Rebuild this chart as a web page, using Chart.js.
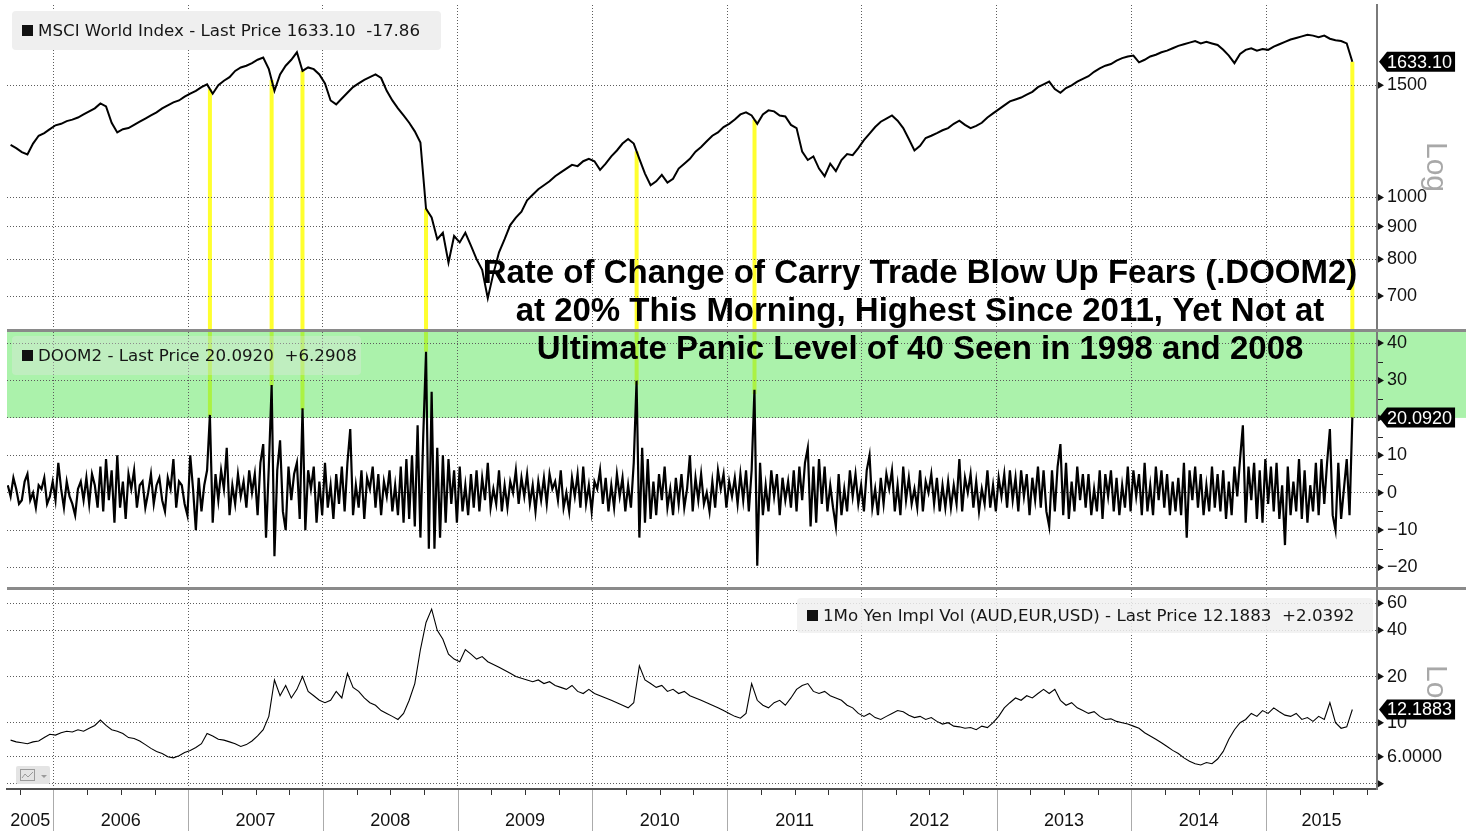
<!DOCTYPE html>
<html>
<head>
<meta charset="utf-8">
<script src="https://cdn.jsdelivr.net/npm/chart.js@4"></script>
<style>
  html, body { margin: 0; padding: 0; background: #fff; }
  #wrap { position: relative; width: 1466px; height: 831px; }
</style>
</head>
<body>
<div id="wrap"><canvas id="chart" width="1466" height="831"></canvas></div>
<script>
// ---- data ----
const lastDate = 2015.64;          // last print, Aug 2015
const halfMonth = 1 / 24;          // spacing of MSCI and yen vol points
const doomStep = 1 / 48;           // spacing of DOOM2 points

// MSCI World Index, twice a month, Sep 2005 -> Aug 2015 (one row = half a year)
const msciValues = [
  1209, 1195, 1178, 1168, 1215, 1250, 1262, 1280, 1298, 1305, 1318, 1325,
  1335, 1350, 1365, 1380, 1405, 1390, 1310, 1265, 1280, 1285, 1300, 1315,
  1330, 1345, 1360, 1380, 1395, 1410, 1420, 1440, 1455, 1470, 1490, 1505,
  1455, 1500, 1525, 1545, 1580, 1600, 1610, 1625, 1645, 1658, 1590, 1470,
  1560, 1610, 1645, 1690, 1580, 1600, 1590, 1560, 1510, 1420, 1400, 1430,
  1460, 1490, 1510, 1530, 1545, 1560, 1540, 1470, 1420, 1380, 1345, 1310,
  1270, 1220, 960, 930, 860, 880, 790, 870, 850, 880, 840, 800,
  770, 695, 760, 820, 860, 905, 930, 950, 990, 1010, 1030, 1045,
  1060, 1080, 1095, 1110, 1125, 1120, 1140, 1150, 1140, 1105, 1130, 1160,
  1185, 1215, 1235, 1215, 1150, 1090, 1045, 1060, 1085, 1055, 1070, 1110,
  1130, 1150, 1180, 1200, 1225, 1250, 1265, 1290, 1305, 1325, 1350, 1360,
  1345, 1305, 1350, 1370, 1365, 1345, 1340, 1300, 1285, 1180, 1145, 1160,
  1110, 1080, 1130, 1100, 1145, 1170, 1165, 1195, 1230, 1260, 1290, 1315,
  1330, 1345, 1320, 1285, 1235, 1185, 1205, 1240, 1250, 1262, 1275, 1285,
  1305, 1320, 1300, 1285, 1295, 1310, 1335, 1355, 1375, 1395, 1415, 1425,
  1435, 1450, 1465, 1490, 1505, 1520, 1480, 1460, 1485, 1500, 1520, 1535,
  1550, 1575, 1595, 1610, 1620, 1640, 1655, 1665, 1670, 1630, 1645, 1665,
  1675, 1690, 1700, 1715, 1730, 1740, 1750, 1760, 1745, 1755, 1745, 1735,
  1705, 1670, 1625, 1680, 1705, 1715, 1700, 1710, 1705, 1725, 1740, 1755,
  1770, 1780, 1790, 1800, 1795, 1785, 1795, 1775, 1765, 1760, 1745, 1633.10
];

// DOOM2 rate of change, ~weekly (one row = half a year)
const doomValues = [
  2, -1, 4, 1, -3, -2, 3, 5, -2, 0, -4, 2, 1, 4, -3, -1, 3, -2, 8, 1, -4, 3, -1, -3,
  -6, 1, 3, -2, 4, -3, 5, 2, -4, 7, -5, 9, -2, 6, -8, 10, -4, 3, -7, 5, 1, 6, -4, 2,
  3, -4, 0, 5, -3, 2, 4, -2, -5, 4, 1, 9, -4, 3, 2, -3, -6, 10, 1, -10, 4, -5, 2, 6,
  20.8, -8, 5, -2, 6, 1, 12, -6, 2, -3, 5, -1, 3, -4, 6, 0, 5, -6, 8, 13, -12, 7, 28.8, -17,
  6, 14, -5, -10, 7, -2, 5, 8, -7, 22.6, -10, 6, 1, 7, -8, 3, -6, 8, -4, 2, -7, 5, -3, 7,
  -5, 8, 17, -6, 2, -4, 6, -7, 4, 1, 7, -4, 5, -6, 3, -1, 6, -5, 2, -6, 7, -8, 9, -7,
  10, -9, 18, -12, 15, 37.7, -15, 27, -15, 12, -12, 10, -8, 9, -3, 6, -8, 7, -5, 2, -6, 5, -4, 6,
  -5, 4, -2, 8, -4, 1, -3, 6, -5, 2, -4, 3, 0, 6, -3, 4, -1, 5, -3, 2, -5, 3, -2, 4,
  -3, 5, 1, 3, -2, 6, -4, 0, -5, 4, -1, 5, -4, 7, -3, 2, -5, 3, 1, 6, -3, 4, -5, 2,
  -4, 5, -1, 4, -5, 2, -4, 8, 29.9, -12, 12, -8, 9, -7, 3, -6, 5, -2, 7, -4, 1, -6, 4, -3,
  5, -4, 1, 10, -5, 4, -2, 5, -3, 0, -5, 3, -4, 6, 1, 5, -4, 3, -1, 4, -3, 5, -2, 6,
  -5, 6, 27.5, -19.5, 8, -6, 2, -5, 6, -1, 5, -6, 4, -2, 3, -4, 6, -5, 7, -2, 8, 12, -9, 7,
  -8, 9, -3, 7, -5, 2, -4, -9, 5, -6, 1, -5, 6, -1, 5, -3, 2, -5, 6, 10, -4, 1, -6, 4,
  -3, 5, 1, 6, -5, 2, -6, 7, -2, 4, -3, 1, -4, 6, -5, 3, 0, 5, -3, 4, -5, 2, -4, 3,
  -4, 2, -3, 9, -5, 4, 0, 5, -4, 3, -5, 1, -3, 6, -4, 2, -5, 4, -1, 5, -4, 6, -2, 4,
  -5, 6, -1, 5, -6, 4, -2, 7, -4, 6, -5, -9, 6, -5, 7, 13, -6, 8, -7, 3, -5, 7, -2, 5,
  -4, 5, -6, 1, -5, 6, -7, 5, -1, 6, -5, 4, -6, 2, -4, 7, -5, 6, -1, 5, -6, 8, -5, 2,
  -6, 7, -2, 6, -4, 5, -6, 3, -5, 4, -6, 8, -12, 6, -2, 7, -4, 5, -6, 2, -5, 7, -4, 5,
  -5, 6, -7, 3, -6, 7, -1, 9, 18, -8, 7, -2, 8, -7, 6, -8, 9, -3, 7, -5, 8, -7, 2, -14,
  7, -6, 3, -5, 9, -7, 6, -8, 2, -5, 8, -6, 9, -3, 8, 17, -6, -10, 8, -7, 1, 9, -6, 20.092
];

// 1Mo Yen implied vol, twice a month
const volValues = [
  7.7, 7.5, 7.4, 7.3, 7.5, 7.6, 8.0, 8.4, 8.3, 8.6, 8.8, 8.7,
  9.0, 8.8, 9.2, 9.6, 10.4, 9.6, 9.0, 8.8, 8.5, 8.0, 7.9, 7.6,
  7.2, 6.8, 6.5, 6.3, 6.0, 5.9, 6.1, 6.4, 6.6, 6.9, 7.3, 8.5,
  8.2, 7.8, 7.7, 7.5, 7.3, 7.0, 7.2, 7.6, 8.2, 9.0, 11.0, 19.0,
  15.0, 17.5, 14.5, 16.5, 20.0, 16.0, 15.0, 14.0, 13.5, 14.0, 16.0, 14.5,
  21.0, 17.0, 16.0, 14.5, 13.5, 13.0, 12.0, 11.5, 11.0, 10.5, 11.5, 14.0,
  18.0, 30.0, 45.0, 55.0, 40.0, 35.0, 28.0, 26.0, 25.0, 30.0, 28.0, 26.0,
  27.0, 25.0, 24.0, 23.0, 22.0, 21.0, 20.0, 19.5, 19.0, 18.5, 19.0, 18.0,
  18.5, 17.5, 17.0, 16.5, 17.5, 16.0, 15.5, 16.5, 15.5, 15.0, 14.5, 14.0,
  13.5, 13.0, 12.5, 13.5, 23.5, 19.0, 18.0, 17.0, 17.5, 16.0, 16.5, 15.5,
  16.0, 15.0, 14.5, 14.0, 13.5, 13.0, 12.5, 12.0, 11.5, 11.0, 10.7, 11.5,
  18.0, 14.0, 13.0, 12.5, 13.5, 14.0, 13.0, 14.5, 16.5, 17.5, 18.0, 16.0,
  15.5, 16.0, 15.0, 14.5, 14.0, 13.0, 12.5, 11.5, 11.0, 11.5, 10.8, 10.5,
  11.0, 11.5, 12.0, 11.8, 11.2, 10.8, 11.0, 10.5, 10.8, 10.2, 9.8, 10.0,
  9.5, 9.4, 9.2, 9.3, 9.0, 9.5, 9.3, 10.0, 11.0, 12.5, 13.5, 14.5,
  14.0, 15.0, 14.5, 15.5, 16.5, 15.5, 16.5, 14.0, 13.0, 13.5, 12.5, 12.0,
  11.5, 11.8, 11.0, 10.5, 10.6, 10.2, 10.0, 9.8, 9.5, 9.2, 8.6, 8.2,
  7.8, 7.4, 7.0, 6.6, 6.3, 5.9, 5.6, 5.4, 5.3, 5.5, 5.4, 5.8,
  6.5, 7.8, 9.0, 10.0, 10.5, 11.5, 11.0, 12.0, 11.5, 12.5, 11.8, 11.2,
  11.0, 11.5, 10.5, 10.8, 10.2, 11.0, 10.5, 13.5, 10.0, 9.2, 9.4, 12.1883
];

// dates of the DOOM2 spikes marked with yellow lines
const spikeDates = [2007.161, 2007.619, 2007.848, 2008.765, 2010.328, 2011.203, 2015.64];

const yearTicks = [2006, 2007, 2008, 2009, 2010, 2011, 2012, 2013, 2014, 2015];
const yearLabels = [2005, 2006, 2007, 2008, 2009, 2010, 2011, 2012, 2013, 2014, 2015];
const msciTicks = [700, 800, 900, 1000, 1500];
const doomTicks = [-20, -10, 0, 10, 20, 30, 40];
const doomMinor = [35, 25, 15, 5, -5, -15];
const volTicks = [4, 6, 10, 20, 40, 60];

const msciLegend = 'MSCI World Index - Last Price 1633.10  -17.86';
const doomLegend = 'DOOM2 - Last Price 20.0920  +6.2908';
const volLegend = '1Mo Yen Impl Vol (AUD,EUR,USD) - Last Price 12.1883  +2.0392';
const noteLines = [
  'Rate of Change of Carry Trade Blow Up Fears (.DOOM2)',
  'at 20% This Morning, Highest Since 2011, Yet Not at',
  'Ultimate Panic Level of 40 Seen in 1998 and 2008'
];

function toPoints(values, step) {
  return values.map((v, i) => ({ x: lastDate - (values.length - 1 - i) * step, y: v }));
}
const msciPts = toPoints(msciValues, halfMonth);
const doomPts = toPoints(doomValues, doomStep);
const volPts = toPoints(volValues, halfMonth);

// pixel of a series at a date, along the drawn straight segments
function pixelAt(pts, xs, ys, d) {
  for (let i = 0; i < pts.length - 1; i++) {
    if (d >= pts[i].x - 1e-6 && d <= pts[i + 1].x + 1e-6) {
      const p0 = ys.getPixelForValue(pts[i].y), p1 = ys.getPixelForValue(pts[i + 1].y);
      const f = (d - pts[i].x) / (pts[i + 1].x - pts[i].x);
      return p0 + (p1 - p0) * Math.max(0, Math.min(1, f));
    }
  }
  return ys.getPixelForValue(pts[pts.length - 1].y);
}

function fitRight(s) {
  s.width = 89;
  s.paddingTop = 0;
  s.paddingBottom = 0;
}

const LS = '"Liberation Sans", Arial, sans-serif';
const DV = '"DejaVu Sans", Verdana, sans-serif';

function legendBox(ctx, x, y, w, h, fill, text) {
  ctx.fillStyle = fill;
  ctx.beginPath();
  ctx.roundRect(x, y, w, h, 4);
  ctx.fill();
  ctx.fillStyle = '#111';
  ctx.fillRect(x + 10, y + h / 2 - 5.5, 11, 11);
  ctx.font = '16.7px ' + DV;
  ctx.textAlign = 'left';
  ctx.textBaseline = 'middle';
  ctx.fillStyle = '#161616';
  ctx.fillText(text, x + 26, y + h / 2 + 1);
}

function valueTag(ctx, y, text) {
  ctx.font = '18px ' + LS;
  const w = ctx.measureText(text).width;
  ctx.fillStyle = '#000';
  ctx.beginPath();
  ctx.moveTo(1379, y);
  ctx.lineTo(1387, y - 10);
  ctx.lineTo(1390 + w, y - 10);
  ctx.lineTo(1390 + w, y + 10);
  ctx.lineTo(1387, y + 10);
  ctx.closePath();
  ctx.fill();
  ctx.fillStyle = '#fff';
  ctx.textAlign = 'left';
  ctx.textBaseline = 'middle';
  ctx.fillText(text, 1387, y + 1);
}

const decor = {
  id: 'decor',
  beforeDraw(chart) {
    const { ctx, chartArea: a, scales } = chart;
    const xs = scales.x, yM = scales.yM, yD = scales.yD;
    ctx.save();
    // yellow connectors from the index down to the DOOM2 spike
    ctx.fillStyle = '#ffff2e';
    spikeDates.forEach(d => {
      const px = xs.getPixelForValue(d);
      const top = pixelAt(msciPts, xs, yM, d);
      const bot = pixelAt(doomPts, xs, yD, d);
      ctx.fillRect(px - 2, top, 4, bot - top);
    });
    // green "fear" band above 20
    ctx.fillStyle = 'rgba(87,229,87,0.5)';
    const g = yD.getPixelForValue(20);
    ctx.fillRect(a.left, yD.top, chart.width - a.left, g - yD.top);
    ctx.restore();
  },
  afterDraw(chart) {
    const { ctx, chartArea: a, scales } = chart;
    const xs = scales.x, yM = scales.yM, yD = scales.yD, yV = scales.yV;
    ctx.save();

    // panel separators
    ctx.fillStyle = '#8a8a8a';
    [yD.top, yV.top].forEach(t => ctx.fillRect(a.left, t - 1.5, chart.width - a.left, 3));

    // arrow heads at each labelled tick, small minor ticks on DOOM2
    ctx.fillStyle = '#111';
    [yM, yD, yV].forEach(s => s.ticks.forEach(t => {
      const py = s.getPixelForValue(t.value);
      ctx.beginPath();
      ctx.moveTo(a.right + 1, py - 3.5);
      ctx.lineTo(a.right + 7, py);
      ctx.lineTo(a.right + 1, py + 3.5);
      ctx.closePath();
      ctx.fill();
    }));
    ctx.strokeStyle = '#222';
    ctx.lineWidth = 1;
    doomMinor.forEach(v => {
      const py = Math.round(yD.getPixelForValue(v)) + 0.5;
      ctx.beginPath();
      ctx.moveTo(a.right + 1, py);
      ctx.lineTo(a.right + 6, py);
      ctx.stroke();
    });

    // "Log" captions
    ctx.fillStyle = '#a8a8a8';
    ctx.font = '30px ' + LS;
    ctx.textAlign = 'left';
    ctx.textBaseline = 'alphabetic';
    [[yM, 142], [yV, 665]].forEach(([s, y0]) => {
      ctx.save();
      ctx.translate(1427, y0);
      ctx.rotate(Math.PI / 2);
      ctx.fillText('Log', 0, 0);
      ctx.restore();
    });

    // time axis: year separators, quarter ticks, year labels
    ctx.strokeStyle = '#ababab';
    yearTicks.forEach(yr => {
      const px = Math.round(xs.getPixelForValue(yr)) + 0.5;
      ctx.beginPath();
      ctx.moveTo(px, a.bottom + 1);
      ctx.lineTo(px, chart.height);
      ctx.stroke();
    });
    ctx.strokeStyle = '#333';
    yearLabels.forEach(yr => {
      [0.25, 0.5, 0.75].forEach(q => {
        const v = yr + q;
        if (v <= xs.min || v >= xs.max) return;
        const px = Math.round(xs.getPixelForValue(v)) + 0.5;
        ctx.beginPath();
        ctx.moveTo(px, a.bottom + 1);
        ctx.lineTo(px, a.bottom + 6);
        ctx.stroke();
      });
    });
    ctx.fillStyle = '#111';
    ctx.font = '18px ' + LS;
    ctx.textAlign = 'center';
    ctx.textBaseline = 'middle';
    yearLabels.forEach(yr => {
      const l = xs.getPixelForValue(Math.max(yr, xs.min));
      const r = xs.getPixelForValue(Math.min(yr + 1, xs.max));
      const w = ctx.measureText(String(yr)).width;
      let cx = (l + r) / 2;
      if (cx - w / 2 < a.left) cx = a.left + w / 2;
      ctx.fillText(String(yr), cx, 821);
    });

    // legend boxes
    legendBox(ctx, 12, 11, 429, 39, '#efefef', msciLegend);
    legendBox(ctx, 12, 336, 349, 39, 'rgba(228,228,228,0.35)', doomLegend);
    legendBox(ctx, 797, 598, 576, 35, 'rgba(240,240,240,0.85)', volLegend);

    // annotation
    ctx.fillStyle = '#000';
    ctx.font = 'bold 33px ' + LS;
    ctx.textAlign = 'center';
    ctx.textBaseline = 'alphabetic';
    noteLines.forEach((t, i) => ctx.fillText(t, 920, 283 + i * 38));

    // last value tags
    valueTag(ctx, yM.getPixelForValue(msciValues[msciValues.length - 1]), '1633.10');
    valueTag(ctx, yD.getPixelForValue(doomValues[doomValues.length - 1]), '20.0920');
    valueTag(ctx, yV.getPixelForValue(volValues[volValues.length - 1]), '12.1883');

    // small chart-type button
    ctx.fillStyle = '#e4e4e4';
    ctx.beginPath();
    ctx.roundRect(16, 766, 34, 18, 2);
    ctx.fill();
    ctx.strokeStyle = '#9a9a9a';
    ctx.strokeRect(20.5, 769.5, 14, 11);
    ctx.beginPath();
    ctx.moveTo(22, 778); ctx.lineTo(25, 774); ctx.lineTo(28, 777); ctx.lineTo(33, 772);
    ctx.stroke();
    ctx.fillStyle = '#9a9a9a';
    ctx.beginPath();
    ctx.moveTo(41, 775); ctx.lineTo(47, 775); ctx.lineTo(44, 778);
    ctx.closePath();
    ctx.fill();

    ctx.restore();
  }
};

Chart.defaults.font.family = LS;

const gridStyle = { color: '#5c5c5c', lineWidth: 1, drawTicks: false };
const gridDash = [1, 2];
const tickStyle = { padding: 10, color: '#111', font: { size: 18 }, autoSkip: false };

new Chart(document.getElementById('chart').getContext('2d'), {
  type: 'line',
  data: {
    datasets: [
      { label: 'MSCI World Index', data: msciPts, yAxisID: 'yM', borderColor: '#000', borderWidth: 2, pointRadius: 0, tension: 0 },
      { label: 'DOOM2', data: doomPts, yAxisID: 'yD', borderColor: '#000', borderWidth: 2.2, pointRadius: 0, tension: 0 },
      { label: '1Mo Yen Impl Vol', data: volPts, yAxisID: 'yV', borderColor: '#000', borderWidth: 1.1, pointRadius: 0, tension: 0 }
    ]
  },
  options: {
    responsive: false,
    animation: false,
    devicePixelRatio: 1,
    events: [],
    layout: { padding: { left: 7, top: 5, right: 0, bottom: 42 } },
    plugins: { legend: { display: false }, tooltip: { enabled: false } },
    scales: {
      x: {
        type: 'linear', position: 'bottom', min: 2005.655, max: 2015.823,
        grid: gridStyle,
        border: { display: true, color: '#505050', width: 2, dash: gridDash },
        ticks: { display: false },
        afterBuildTicks: s => { s.ticks = yearTicks.map(v => ({ value: v })); },
        afterFit: s => { s.height = 0; s.paddingLeft = 0; s.paddingRight = 0; }
      },
      yM: {
        type: 'logarithmic', position: 'right', stack: 'panels', stackWeight: 325.5,
        min: 618.2, max: 2005.1, bounds: 'data',
        grid: gridStyle,
        border: { color: '#7a7a7a', width: 2, dash: gridDash },
        ticks: Object.assign({}, tickStyle, { callback: v => String(v) }),
        afterBuildTicks: s => { s.ticks = msciTicks.map(v => ({ value: v })); },
        afterFit: fitRight
      },
      yD: {
        type: 'linear', position: 'right', stack: 'panels', stackWeight: 258,
        min: -25.61, max: 43.37, bounds: 'data',
        grid: gridStyle,
        border: { color: '#7a7a7a', width: 2, dash: gridDash },
        ticks: Object.assign({}, tickStyle, { callback: v => String(v).replace('-', '\u2212') }),
        afterBuildTicks: s => { s.ticks = doomTicks.map(v => ({ value: v })); },
        afterFit: fitRight
      },
      yV: {
        type: 'logarithmic', position: 'right', stack: 'panels', stackWeight: 200.5,
        min: 3.697, max: 74.98, bounds: 'data',
        grid: gridStyle,
        border: { color: '#7a7a7a', width: 2, dash: gridDash },
        ticks: Object.assign({}, tickStyle, { callback: v => v === 4 ? '' : (v === 6 ? '6.0000' : String(v)) }),
        afterBuildTicks: s => { s.ticks = volTicks.map(v => ({ value: v })); },
        afterFit: fitRight
      }
    }
  },
  plugins: [decor]
});
</script>
</body>
</html>
